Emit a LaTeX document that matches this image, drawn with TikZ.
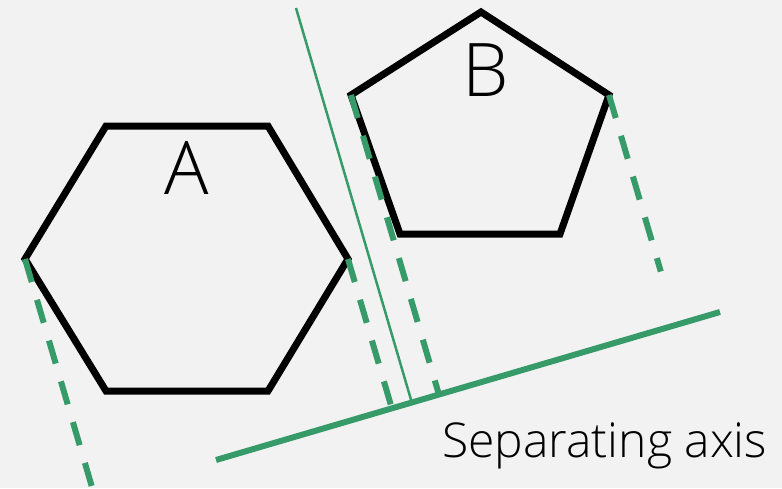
\documentclass[tikz,border=0pt]{standalone}
\usepackage{fontspec}
\setmainfont{Open Sans Light}
\usetikzlibrary{calc}
\usepackage{xcolor}
\definecolor{pagebg}{HTML}{F2F2F2}
\definecolor{sepgreen}{HTML}{369B69}

\begin{document}
\begin{tikzpicture}[
    x=1pt, y=-1pt,
    % the two solids: heavy black outline, nothing else
    polyline/.style={draw=black, line width=7pt, line join=miter},
    % the axis itself, and the thin separating line normal to it
    axisline/.style={draw=sepgreen, line width=6pt},
    sepline/.style={draw=sepgreen, line width=2.5pt},
    % projections of the extreme vertices onto the axis
    projline/.style={draw=sepgreen, line width=6pt, dash pattern=on 24pt off 18.5pt},
    namelab/.style={inner sep=0pt, font=\fontsize{74}{80}\selectfont},
]
\fill[pagebg] (0,0) rectangle (782,488);
\useasboundingbox (0,0) rectangle (782,488);
\clip (0,0) rectangle (782,488);

%================= polygon A (hexagon) =================%
\coordinate (aL)  at (25,259);
\coordinate (aTL) at (106,126);
\coordinate (aTR) at (268,126);
\coordinate (aR)  at (348,259);
\coordinate (aBR) at (268,391);
\coordinate (aBL) at (106,391);
\draw[polyline] (aL) -- (aTL) -- (aTR) -- (aR) -- (aBR) -- (aBL) -- cycle;
\node[namelab] (labA) at (187,168) {A};

%================= polygon B (pentagon) =================%
\coordinate (bT)  at (481,12);
\coordinate (bR)  at (609,95);
\coordinate (bBR) at (560,234);
\coordinate (bBL) at (400,234);
\coordinate (bL)  at (351,95);
\draw[polyline] (bT) -- (bR) -- (bBR) -- (bBL) -- (bL) -- cycle;
\node[namelab] (labB) at (486,70) {B};

%================= the axis and the separating line =================%
\coordinate (ax1) at (216,460);
\coordinate (ax2) at (720,312);
\coordinate (sepTop) at (296,8);
\draw[axisline] (ax1) -- (ax2);
\draw[sepline] (sepTop) -- ($(ax1)!(sepTop)!(ax2)$);

%================= projections =================%
\draw[projline] (aL) -- ($(ax1)!(aL)!(ax2)$);
\draw[projline] (aR) -- ($(ax1)!(aR)!(ax2)$);
\draw[projline] (bL) -- ($(ax1)!(bL)!(ax2)$);
\draw[projline] (bR) -- ($(bR)!0.768!($(ax1)!(bR)!(ax2)$)$);

\node[inner sep=0pt, anchor=base west, font=\fontsize{48}{54}\selectfont] (axlab) at (442,457) {Separating axis};

\end{tikzpicture}
\end{document}
